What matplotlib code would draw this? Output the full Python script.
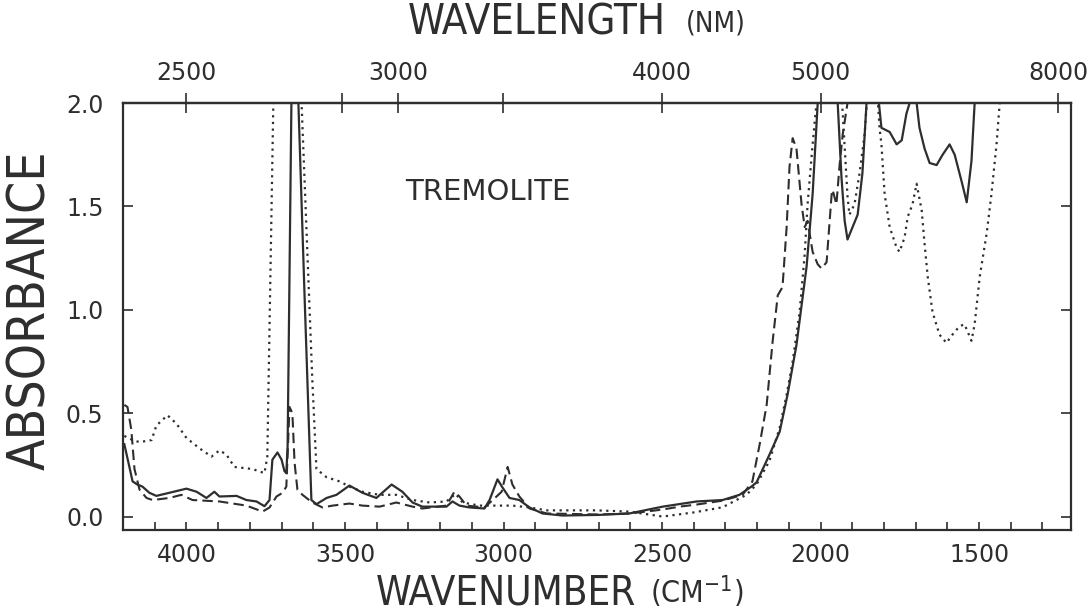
import numpy as np
import matplotlib
matplotlib.use("Agg")
import matplotlib.pyplot as plt

# wavenumber (cm-1) / absorbance pairs; values > 2 are off-scale
solid_wn = [4196, 4180, 4170, 4155, 4139, 4117, 4095, 4054, 4000, 3968, 3937, 3912, 3896,
            3842, 3811, 3779, 3754, 3738, 3729, 3713, 3700, 3691, 3685, 3681, 3669, 3660,
            3647, 3628, 3606, 3590, 3558, 3527, 3486, 3445, 3401, 3353, 3319, 3287, 3256,
            3180, 3161, 3139, 3107, 3060, 3044, 3019, 3003, 2981, 2950, 2918, 2877, 2814,
            2700, 2603, 2498, 2391, 2309, 2256, 2218, 2202, 2161, 2129, 2104, 2076, 2044,
            2025, 2009, 1990, 1955, 1946, 1934, 1924, 1915, 1899, 1883, 1868, 1855, 1835,
            1816, 1808, 1782, 1760, 1744, 1729, 1719, 1706, 1697, 1688, 1672, 1656, 1634,
            1615, 1593, 1577, 1555, 1539, 1524, 1514, 1500, 1210]
solid_abs = [0.35, 0.24, 0.17, 0.155, 0.145, 0.115, 0.10, 0.115, 0.135, 0.12, 0.09, 0.12, 0.097,
             0.10, 0.08, 0.073, 0.05, 0.08, 0.275, 0.31, 0.275, 0.22, 0.21, 0.34, 2.0, 2.4,
             2.0, 1.09, 0.08, 0.06, 0.09, 0.105, 0.15, 0.115, 0.09, 0.155, 0.12, 0.068, 0.048,
             0.048, 0.073, 0.053, 0.044, 0.039, 0.08, 0.18, 0.14, 0.09, 0.08, 0.044, 0.015, 0.005,
             0.008, 0.015, 0.048, 0.073, 0.08, 0.105, 0.145, 0.165, 0.30, 0.41, 0.59, 0.83, 1.21,
             1.56, 2.0, 2.4, 2.4, 2.0, 1.64, 1.43, 1.34, 1.40, 1.46, 1.66, 2.0, 2.4,
             2.0, 1.88, 1.86, 1.80, 1.82, 1.95, 2.0, 2.3, 2.0, 1.88, 1.78, 1.71, 1.70,
             1.75, 1.80, 1.75, 1.62, 1.52, 1.72, 2.0, 2.4, 2.4]

dashed_wn = [4196, 4186, 4174, 4164, 4148, 4126, 4107, 4054, 4016, 3981, 3896, 3811, 3760,
             3738, 3716, 3697, 3685, 3675, 3666, 3659, 3650, 3634, 3603, 3571, 3539, 3486,
             3445, 3391, 3338, 3287, 3256, 3180, 3155, 3139, 3117, 3060, 3022, 3006, 2987,
             2972, 2950, 2918, 2864, 2700, 2600, 2498, 2445, 2391, 2309, 2246, 2215, 2192,
             2170, 2151, 2135, 2120, 2107, 2098, 2088, 2076, 2060, 2050, 2041, 2025, 2009,
             1997, 1981, 1965, 1962, 1950, 1940, 1930, 1915, 1900, 1210]
dashed_abs = [0.54, 0.53, 0.42, 0.23, 0.13, 0.09, 0.08, 0.09, 0.105, 0.08, 0.073, 0.053, 0.024,
              0.044, 0.097, 0.115, 0.145, 0.53, 0.50, 0.26, 0.13, 0.105, 0.068, 0.044, 0.053, 0.063,
              0.053, 0.048, 0.068, 0.048, 0.039, 0.053, 0.12, 0.097, 0.053, 0.044, 0.097, 0.12, 0.24,
              0.155, 0.097, 0.039, 0.015, 0.01, 0.015, 0.034, 0.048, 0.058, 0.077, 0.105, 0.17, 0.35,
              0.54, 0.85, 1.07, 1.11, 1.40, 1.69, 1.83, 1.78, 1.51, 1.40, 1.43, 1.28, 1.22,
              1.20, 1.23, 1.56, 1.58, 1.51, 1.70, 1.85, 2.0, 2.4, 2.4]

dotted_wn = [4196, 4170, 4148, 4110, 4095, 4060, 4032, 4000, 3959, 3921, 3896, 3874, 3849,
             3792, 3754, 3745, 3726, 3700, 3637, 3603, 3590, 3558, 3517, 3486, 3445, 3391,
             3338, 3287, 3233, 3180, 3151, 3129, 3076, 3022, 2972, 2918, 2864, 2707, 2603,
             2498, 2400, 2309, 2234, 2202, 2161, 2129, 2107, 2088, 2066, 2050, 2041, 2025,
             2013, 1990, 1945, 1932, 1915, 1909, 1893, 1877, 1861, 1855, 1840, 1822, 1819,
             1814, 1808, 1798, 1782, 1760, 1751, 1735, 1725, 1710, 1697, 1681, 1672, 1662,
             1647, 1625, 1603, 1584, 1562, 1546, 1524, 1514, 1498, 1476, 1461, 1445, 1435,
             1420, 1210]
dotted_abs = [0.39, 0.37, 0.36, 0.37, 0.44, 0.49, 0.45, 0.38, 0.33, 0.29, 0.32, 0.30, 0.24,
              0.23, 0.21, 0.29, 2.0, 2.4, 2.0, 0.66, 0.23, 0.19, 0.17, 0.145, 0.12, 0.105,
              0.105, 0.08, 0.068, 0.073, 0.11, 0.068, 0.053, 0.053, 0.053, 0.044, 0.03, 0.03, 0.024,
              0.0, 0.02, 0.045, 0.105, 0.155, 0.27, 0.43, 0.59, 0.75, 0.99, 1.27, 1.51, 1.80,
              2.0, 2.4, 2.4, 2.0, 1.55, 1.46, 1.51, 1.66, 1.85, 1.98, 2.4, 2.4, 2.0,
              1.88, 1.80, 1.56, 1.40, 1.30, 1.28, 1.35, 1.45, 1.51, 1.61, 1.48, 1.32, 1.16,
              0.99, 0.88, 0.84, 0.88, 0.92, 0.93, 0.85, 0.93, 1.16, 1.37, 1.56, 1.80, 2.0,
              2.4, 2.4]

wn_major = [4000, 3500, 3000, 2500, 2000, 1500]
wn_minor = list(range(4200, 1200, -100))
abs_ticks = [0.0, 0.5, 1.0, 1.5, 2.0]
nm_major = [2500, 3000, 4000, 5000, 8000]
nm_minor = [2850, 3330]

INK = "#2e2e2e"

fig = plt.figure(figsize=(10.89, 6.14), dpi=100)
ax = fig.add_axes([0.113, 0.1368, 0.8705, 0.6954])

ax.plot(solid_wn, solid_abs, color=INK, lw=1.6, ls="-")
ax.plot(dashed_wn, dashed_abs, color=INK, lw=1.5, ls=(0, (5, 2.5)))
ax.plot(dotted_wn, dotted_abs, color=INK, lw=1.6, ls=(0, (1, 2)))

ax.set_xlim(4200, 1210)
ax.set_ylim(-0.065, 2.0)

ax.set_xticks(wn_major)
ax.set_xticks(wn_minor, minor=True)
ax.set_yticks(abs_ticks)
ax.set_yticklabels([f"{v:.1f}" for v in abs_ticks])
ax.tick_params(axis="x", which="both", direction="in", length=6, width=1.2, top=False,
               colors=INK, labelsize=17, pad=9)
ax.tick_params(axis="y", direction="in", length=7, width=1.2, right=True,
               colors=INK, labelsize=17, pad=14)
for s in ax.spines.values():
    s.set_linewidth(1.6)
    s.set_color(INK)

top = ax.secondary_xaxis("top", functions=(lambda k: 1e7 / np.asarray(k, float),
                                           lambda nm: 1e7 / np.asarray(nm, float)))
top.set_xticks(nm_major)
top.set_xticks(nm_minor, minor=True)
top.set_xticklabels([str(v) for v in nm_major])
top.tick_params(which="both", direction="inout", length=14, width=1.2, colors=INK,
                labelsize=17, pad=6)
top.spines["top"].set_linewidth(1.6)

ax.text(3050, 1.57, "TREMOLITE", fontsize=21, color=INK, ha="center", va="center")

title_kw = dict(family="DejaVu Sans", fontweight="light", fontstretch="condensed", color=INK)
fig.text(0.465, 0.034, "WAVENUMBER", fontsize=29, ha="center", va="center", **title_kw)
fig.text(0.597, 0.036, "(CM$^{\\mathregular{-1}}$)", fontsize=22, ha="left", va="center",
         **title_kw)
fig.text(0.493, 0.963, "WAVELENGTH", fontsize=30, ha="center", va="center", **title_kw)
fig.text(0.630, 0.962, "(NM)", fontsize=20, ha="left", va="center", **title_kw)
fig.text(0.029, 0.495, "ABSORBANCE", fontsize=37, rotation=90, ha="center", va="center",
         **title_kw)

fig.savefig("out.png", dpi=100, facecolor="white")
plt.close(fig)
